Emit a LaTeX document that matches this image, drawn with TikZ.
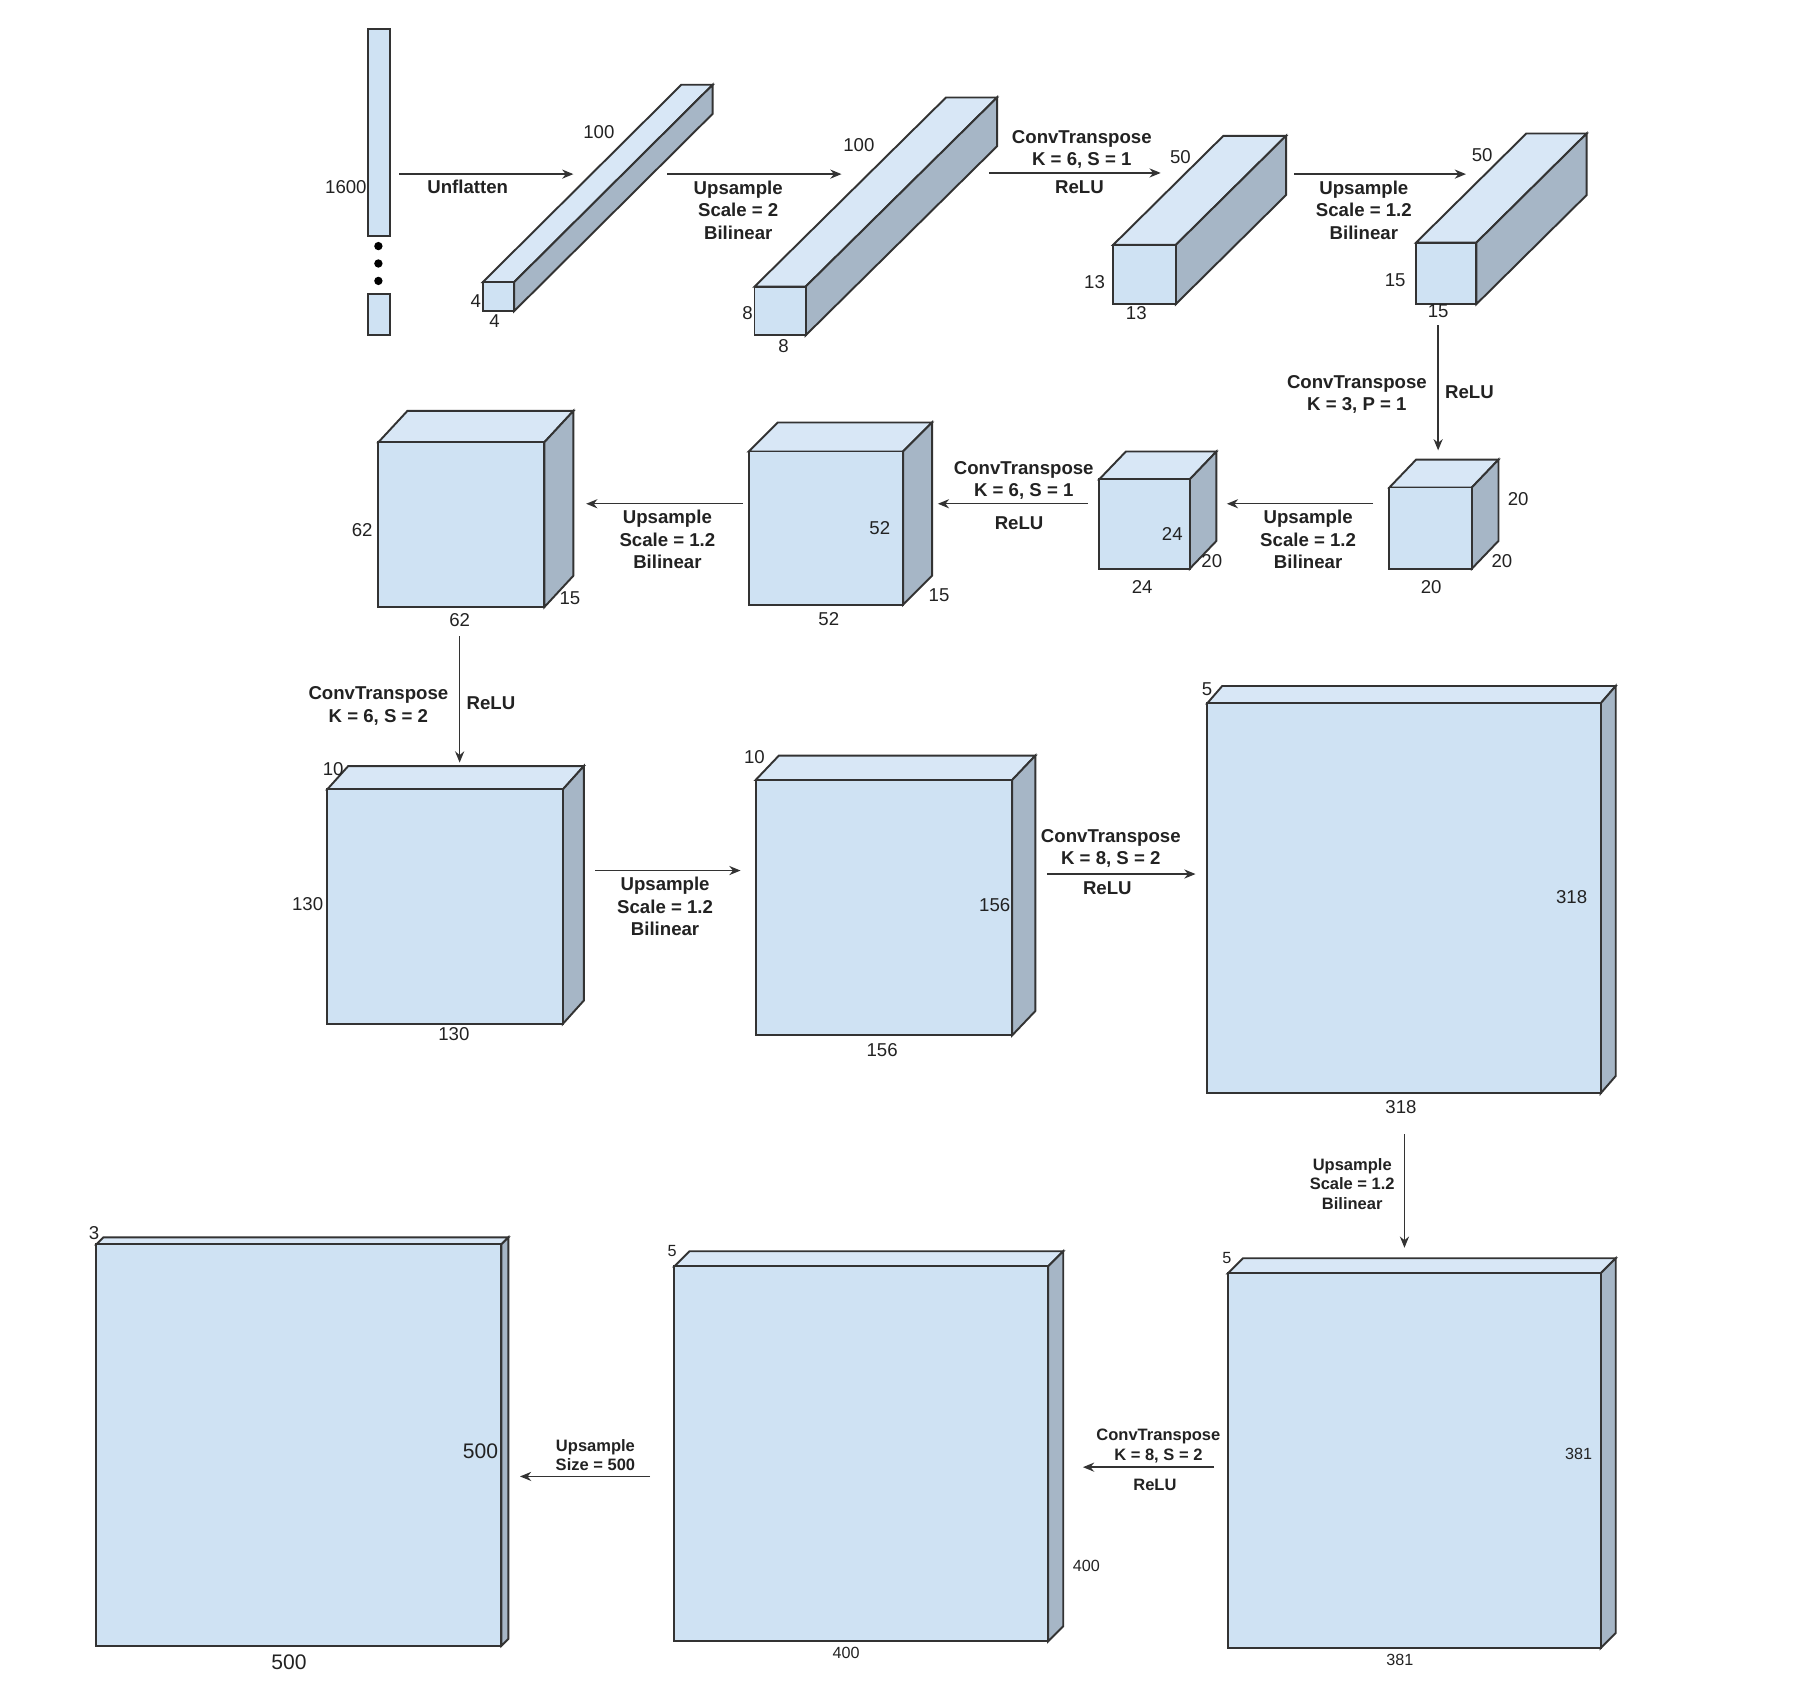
\documentclass[tikz,border=0pt]{standalone}
\usepackage{fontspec}
\setmainfont{Liberation Sans}
\usetikzlibrary{arrows.meta}
\definecolor{frontc}{HTML}{CFE2F3}
\definecolor{topc}{HTML}{D8E7F6}
\definecolor{sidec}{HTML}{A6B6C6}
\definecolor{edgec}{HTML}{333333}
\definecolor{txtc}{HTML}{222222}
\tikzset{
  faceline/.style={draw=edgec, line width=0.55pt, line join=miter},
  flow/.style={draw=edgec, line width=0.4pt, -{Stealth[length=3.2pt,width=2.6pt]}},
  oplabel/.style={font=\fontsize{5.3}{6.4}\selectfont\bfseries, text=txtc, align=center, inner sep=0pt},
  oplabelsm/.style={font=\fontsize{4.7}{5.6}\selectfont\bfseries, text=txtc, align=center, inner sep=0pt},
  dimlabel/.style={font=\fontsize{5.3}{6.4}\selectfont, text=txtc, inner sep=0pt},
  dimlabelsm/.style={font=\fontsize{4.6}{5.5}\selectfont, text=txtc, inner sep=0pt},
  dimlabelbig/.style={font=\fontsize{6}{7}\selectfont, text=txtc, inner sep=0pt},
}
% #1 name, (#2,#3) front top-left, (#4,#5) front bottom-right, #6 dx, #7 dy
\newcommand{\drawcuboid}[7]{%
  \filldraw[faceline, fill=topc] (#2,#3) -- ({#2+#6},{#3-#7}) -- ({#4+#6},{#3-#7}) -- (#4,#3) -- cycle;
  \filldraw[faceline, fill=sidec] (#4,#3) -- ({#4+#6},{#3-#7}) -- ({#4+#6},{#5-#7}) -- (#4,#5) -- cycle;
  \filldraw[faceline, fill=frontc] (#2,#3) rectangle (#4,#5);
  \coordinate (#1-tl) at (#2,#3);
  \coordinate (#1-br) at (#4,#5);
}
\begin{document}
\begin{tikzpicture}[x=0.011607cm, y=-0.011607cm]
\useasboundingbox (0,0) rectangle (1568,1461);

% ---------- Row 1 ----------
% input vector
\filldraw[faceline, fill=frontc] (317,25) rectangle (336,203);
\coordinate (v1) at (317,25);
\filldraw[faceline, fill=frontc] (317,253) rectangle (336,289);
\coordinate (v2) at (317,253);
\fill[black] (326,212) circle (3.6) (326,227) circle (3.6) (326,242) circle (3.6);
\node[dimlabel] (l1600) at (298,161) {1600};

\drawcuboid{b2}{416}{243}{443}{268}{171}{170}
\node[dimlabel] (b2a) at (516,114) {100};
\node[dimlabel] (b2b) at (410,259) {4};
\node[dimlabel] (b2c) at (426,277) {4};

\drawcuboid{b3}{650}{247}{694}{289}{165}{163}
\node[dimlabel] (b3a) at (740,125) {100};
\node[dimlabel] (b3b) at (644,270) {8};
\node[dimlabel] (b3c) at (675,298) {8};

\drawcuboid{b4}{959}{211}{1013}{262}{95}{94}
\node[dimlabel] (b4a) at (1017,135) {50};
\node[dimlabel] (b4b) at (943,243) {13};
\node[dimlabel] (b4c) at (979,270) {13};

\drawcuboid{b5}{1220}{209}{1272}{262}{95}{94}
\node[dimlabel] (b5a) at (1277,134) {50};
\node[dimlabel] (b5b) at (1202,241) {15};
\node[dimlabel] (b5c) at (1239,268) {15};

% arrows row 1
\coordinate (a1s) at (344,150); \coordinate (a1e) at (494,150);
\draw[flow] (a1s) -- (a1e);
\node[oplabel] (t1) at (403,161) {Unflatten};

\coordinate (a2s) at (575,150); \coordinate (a2e) at (725,150);
\draw[flow] (a2s) -- (a2e);
\node[oplabel, anchor=north] (t2) at (636,155) {Upsample\\Scale = 2\\Bilinear};

\coordinate (a3s) at (852,149); \coordinate (a3e) at (1000,149);
\draw[flow] (a3s) -- (a3e);
\node[oplabel, anchor=south] (t3) at (932,146) {ConvTranspose\\K = 6, S = 1};
\node[oplabel] (t3b) at (930,161) {ReLU};

\coordinate (a4s) at (1115,150); \coordinate (a4e) at (1263,150);
\draw[flow] (a4s) -- (a4e);
\node[oplabel, anchor=north] (t4) at (1175,155) {Upsample\\Scale = 1.2\\Bilinear};

\coordinate (a5s) at (1239,280); \coordinate (a5e) at (1239,388);
\draw[flow] (a5s) -- (a5e);
\node[oplabel] (t5) at (1169,340) {ConvTranspose\\K = 3, P = 1};
\node[oplabel] (t5b) at (1266,338) {ReLU};

% ---------- Row 2 ----------
\drawcuboid{b6}{1197}{420}{1268}{490}{23}{24}
\node[dimlabel] (b6a) at (1308,430) {20};
\node[dimlabel] (b6b) at (1294,483) {20};
\node[dimlabel] (b6c) at (1233,506) {20};

\drawcuboid{b7}{947}{413}{1025}{490}{23}{24}
\node[dimlabel] (b7a) at (1010,460) {24};
\node[dimlabel] (b7b) at (1044,483) {20};
\node[dimlabel] (b7c) at (984,506) {24};

\drawcuboid{b8}{645}{389}{778}{521}{25}{25}
\node[dimlabel] (b8a) at (758,455) {52};
\node[dimlabel] (b8b) at (809,513) {15};
\node[dimlabel] (b8c) at (714,533) {52};

\drawcuboid{b9}{326}{381}{469}{523}{25}{27}
\node[dimlabel] (b9a) at (312,457) {62};
\node[dimlabel] (b9b) at (491,515) {15};
\node[dimlabel] (b9c) at (396,534) {62};

\coordinate (a6s) at (1183,434); \coordinate (a6e) at (1057,434);
\draw[flow] (a6s) -- (a6e);
\node[oplabel, anchor=north] (t6) at (1127,439) {Upsample\\Scale = 1.2\\Bilinear};

\coordinate (a7s) at (937,434); \coordinate (a7e) at (808,434);
\draw[flow] (a7s) -- (a7e);
\node[oplabel, anchor=south] (t7) at (882,431) {ConvTranspose\\K = 6, S = 1};
\node[oplabel] (t7b) at (878,451) {ReLU};

\coordinate (a8s) at (640,434); \coordinate (a8e) at (505,434);
\draw[flow] (a8s) -- (a8e);
\node[oplabel, anchor=north] (t8) at (575,439) {Upsample\\Scale = 1.2\\Bilinear};

\coordinate (a9s) at (396,548); \coordinate (a9e) at (396,657);
\draw[flow] (a9s) -- (a9e);
\node[oplabel] (t9) at (326,608) {ConvTranspose\\K = 6, S = 2};
\node[oplabel] (t9b) at (423,606) {ReLU};

% ---------- Row 3 ----------
\drawcuboid{b10}{282}{680}{485}{882}{18}{20}
\node[dimlabel] (b10a) at (287,663) {10};
\node[dimlabel] (b10b) at (265,779) {130};
\node[dimlabel] (b10c) at (391,891) {130};

\drawcuboid{b11}{651}{672}{872}{892}{20}{21}
\node[dimlabel] (b11a) at (650,652) {10};
\node[dimlabel] (b11b) at (857,780) {156};
\node[dimlabel] (b11c) at (760,905) {156};

\drawcuboid{b12}{1040}{606}{1379}{942}{13}{15}
\node[dimlabel] (b12a) at (1040,594) {5};
\node[dimlabel] (b12b) at (1354,773) {318};
\node[dimlabel] (b12c) at (1207,954) {318};

\coordinate (a10s) at (513,750); \coordinate (a10e) at (638,750);
\draw[flow] (a10s) -- (a10e);
\node[oplabel, anchor=north] (t10) at (573,755) {Upsample\\Scale = 1.2\\Bilinear};

\coordinate (a11s) at (902,753); \coordinate (a11e) at (1030,753);
\draw[flow] (a11s) -- (a11e);
\node[oplabel, anchor=south] (t11) at (957,748) {ConvTranspose\\K = 8, S = 2};
\node[oplabel] (t11b) at (954,765) {ReLU};

\coordinate (a12s) at (1210,977); \coordinate (a12e) at (1210,1075);
\draw[flow] (a12s) -- (a12e);
\node[oplabelsm] (t12) at (1165,1020) {Upsample\\Scale = 1.2\\Bilinear};

% ---------- Row 4 ----------
\drawcuboid{b13}{1058}{1097}{1379}{1420}{13}{13}
\node[dimlabelsm] (b13a) at (1057,1084) {5};
\node[dimlabelsm] (b13b) at (1360,1253) {381};
\node[dimlabelsm] (b13c) at (1206,1430) {381};

\drawcuboid{b14}{581}{1091}{903}{1414}{13}{13}
\node[dimlabelsm] (b14a) at (579,1078) {5};
\node[dimlabelsm] (b14b) at (936,1349) {400};
\node[dimlabelsm] (b14c) at (729,1424) {400};

\drawcuboid{b15}{83}{1072}{432}{1418}{6}{6}
\node[dimlabel] (b15a) at (81,1062) {3};
\node[dimlabelbig] (b15b) at (414,1250) {500};
\node[dimlabelbig] (b15c) at (249,1432) {500};

\coordinate (a13s) at (1046,1264); \coordinate (a13e) at (933,1264);
\draw[flow] (a13s) -- (a13e);
\node[oplabelsm, anchor=south] (t13) at (998,1261) {ConvTranspose\\K = 8, S = 2};
\node[oplabelsm] (t13b) at (995,1279) {ReLU};

\coordinate (a14s) at (560,1272); \coordinate (a14e) at (448,1272);
\draw[flow] (a14s) -- (a14e);
\node[oplabelsm, anchor=south] (t14) at (513,1268) {Upsample\\Size = 500};
\end{tikzpicture}
\end{document}
